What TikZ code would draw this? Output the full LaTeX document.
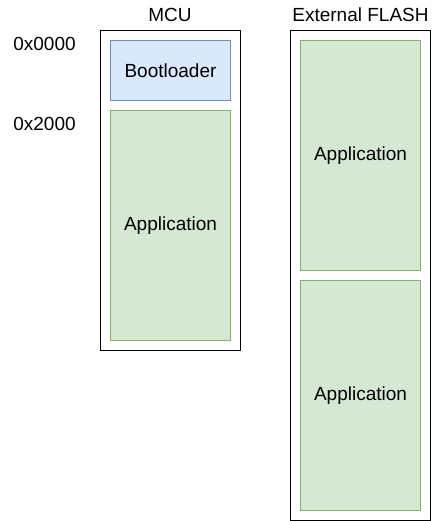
\documentclass[tikz,border=0pt]{standalone}
\usepackage{fontspec}
\setmainfont{Liberation Sans}
\definecolor{bluefill}{HTML}{DAE8FC}
\definecolor{bluestroke}{HTML}{6C8EBF}
\definecolor{greenfill}{HTML}{D5E8D4}
\definecolor{greenstroke}{HTML}{82B366}
\begin{document}
\begin{tikzpicture}[x=1pt,y=-1pt,
  outer/.style={draw=black,line width=1pt,fill=white},
  blueblk/.style={draw=bluestroke,fill=bluefill,line width=0.8pt},
  greenblk/.style={draw=greenstroke,fill=greenfill,line width=0.8pt},
  lbl/.style={font=\fontsize{19}{22}\selectfont,inner sep=0pt}]
\useasboundingbox (0,0) rectangle (433,521);
\draw[outer] (100.5,30.5) rectangle (240.5,350.5);
\draw[outer] (290.5,30.5) rectangle (430.5,520);
\draw[blueblk] (110.5,40.5) rectangle node[lbl] (boot) {Bootloader} (230.5,100.5);
\draw[greenblk] (110.5,110.5) rectangle node[lbl] (app) {Application} (230.5,340.5);
\draw[greenblk] (300.5,40.5) rectangle node[lbl] (ext1) {Application} (420.5,270.5);
\draw[greenblk] (300.5,280.5) rectangle node[lbl] (ext2) {Application} (420.5,510.5);
\node[lbl] (mcu) at (170,15) {MCU};
\node[lbl] (flash) at (360.5,15) {External FLASH};
\node[lbl] (a0) at (44.5,44) {0x0000};
\node[lbl] (a2) at (44.5,124) {0x2000};
\end{tikzpicture}
\end{document}
